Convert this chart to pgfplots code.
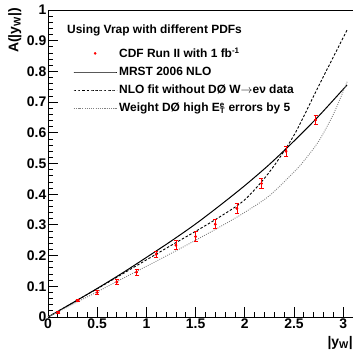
\documentclass[border=0pt]{standalone}
\usepackage{fontspec}
\setmainfont{Liberation Sans}
\usepackage{pgfplots}
\pgfplotsset{compat=1.18}
\pgfplotstableread{
x y e
0.105 0.015 0.004
0.30 0.054 0.004
0.50 0.080 0.006
0.70 0.114 0.008
0.90 0.146 0.009
1.10 0.204 0.010
1.30 0.234 0.014
1.50 0.262 0.016
1.70 0.302 0.015
1.92 0.354 0.015
2.17 0.435 0.016
2.42 0.540 0.017
2.72 0.642 0.016
}\cdfdata
\begin{document}
\begin{tikzpicture}
\begin{axis}[
  name=ax,
  scale only axis, width=305bp, height=307bp,
  xmin=0, xmax=3.1, ymin=0, ymax=1,
  xtick={0,0.5,1,1.5,2,2.5,3}, minor x tick num=4,
  ytick={0,0.1,0.2,0.3,0.4,0.5,0.6,0.7,0.8,0.9,1}, minor y tick num=4,
  tick align=inside, xtick pos=left, ytick pos=left,
  major tick length=10bp, minor tick length=5bp,
  every tick/.style={black, line width=0.8bp},
  axis line style={line width=0.8bp},
  /pgf/number format/assume math mode=true,
  ticklabel style={font=\fontsize{14}{14}\selectfont\bfseries},
  yticklabel style={inner xsep=1.5bp},
  xticklabel style={inner ysep=2bp},
  xlabel={|y\textsubscript{W}|},
  xlabel style={at={(rel axis cs:1,0)}, anchor=north east, yshift=-19bp, inner sep=0pt, font=\fontsize{14}{14}\selectfont\bfseries},
  ylabel={A(|y\textsubscript{W}|)},
  ylabel style={at={(rel axis cs:-0.131,1.0065)}, anchor=north east, inner sep=0pt, font=\fontsize{14}{14}\selectfont\bfseries},
  legend image code/.code={\draw[mark repeat=2,mark phase=2,#1] plot coordinates {(0bp,0bp)(21.5bp,0bp)(43bp,0bp)};},
  legend style={at={(rel axis cs:0.072,0.889)}, anchor=north west, draw=none, fill=none,
    font=\fontsize{12}{12}\selectfont\bfseries, row sep=5bp,
    nodes={inner ysep=1.5bp}},
  legend cell align=left,
  cdf/.style={only marks, color=red, mark=*, mark size=1.1bp,
    mark options={draw=red, fill=red},
    error bars/y dir=both, error bars/y explicit,
    error bars/error bar style={draw=red, solid, line width=0.8bp},
    error bars/error mark=|,
    error bars/error mark options={draw=red, color=red, solid, mark size=2bp, line width=0.8bp}},
]
\addplot[cdf] table[x=x, y=y, y error=e] {\cdfdata};
\addlegendentry{CDF Run II with 1 fb\textsuperscript{-1}}
\addplot[black, line width=1bp, smooth] coordinates {
(0,0) (0.25,0.046) (0.5,0.093) (0.75,0.142) (1.0,0.194) (1.25,0.247) (1.5,0.303)
(1.75,0.364) (2.0,0.428) (2.25,0.497) (2.5,0.573) (2.75,0.654) (3.04,0.756)};
\addlegendentry{MRST 2006 NLO}
\addplot[black, line width=0.9bp, dash pattern=on 2.5bp off 1.8bp, smooth] coordinates {
(0,0) (0.25,0.046) (0.5,0.092) (0.75,0.139) (1.0,0.186) (1.25,0.233) (1.5,0.279)
(1.75,0.327) (2.0,0.382) (2.25,0.472) (2.5,0.592) (2.75,0.752) (3.04,0.935)};
\addlegendentry{NLO fit without DØ W$\rightarrow$eν data}
\addplot[black!50, line width=0.9bp, dash pattern=on 0.9bp off 1.3bp, smooth] coordinates {
(0,0) (0.25,0.041) (0.5,0.082) (0.75,0.124) (1.0,0.165) (1.25,0.207) (1.5,0.250)
(1.75,0.294) (2.0,0.341) (2.25,0.395) (2.5,0.472) (2.6,0.508) (2.75,0.572) (2.9,0.66) (3.04,0.766)};
\addlegendentry{Weight DØ high E\rlap{\textsuperscript{e}}\textsubscript{T} errors by 5}
\addplot[forget plot, cdf] table[x=x, y=y, y error=e] {\cdfdata};
\node[anchor=west, inner sep=0pt, font=\fontsize{12}{12}\selectfont\bfseries] at (axis cs:0.193,0.935) {Using Vrap with different PDFs};
\end{axis}
\pgfresetboundingbox
\path[use as bounding box] ([xshift=-48bp,yshift=-34bp]ax.south west) rectangle ([yshift=10bp]ax.north east);
\end{tikzpicture}
\end{document}
